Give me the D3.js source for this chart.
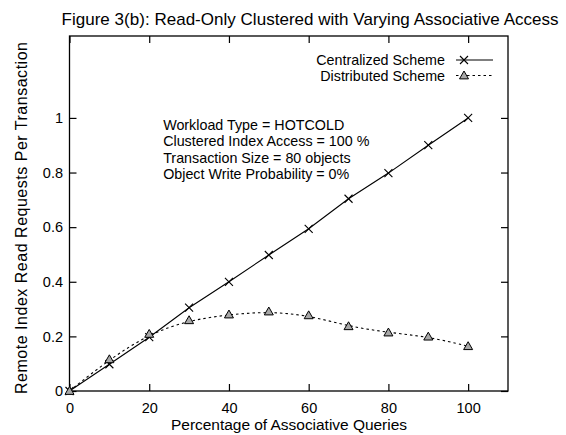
<!DOCTYPE html>
<meta charset="utf-8">
<html>
<head>
<script src="https://d3js.org/d3.v7.min.js"></script>
<style>
  body { margin: 0; background: #fff; }
  text { font-family: "Liberation Sans", Arial, Helvetica, sans-serif; fill: #000; }
</style>
</head>
<body>
<div id="chart"></div>
<script>
// data
var queryPct = [0, 10, 20, 30, 40, 50, 60, 70, 80, 90, 100];
var centralized = [0, 0.098, 0.197, 0.305, 0.400, 0.498, 0.594, 0.704, 0.798, 0.900, 1.0];
var distributed = [0, 0.116, 0.209, 0.259, 0.280, 0.291, 0.277, 0.237, 0.214, 0.199, 0.164];
var xTicks = [0, 20, 40, 60, 80, 100];
var yTicks = [0, 0.2, 0.4, 0.6, 0.8, 1];
var notes = ["Workload Type = HOTCOLD",
             "Clustered Index Access = 100 %",
             "Transaction Size = 80 objects",
             "Object Write Probability = 0%"];

var W = 566, H = 435;
var margin = {top: 36, right: 58, bottom: 44, left: 69.5};
var width = W - margin.left - margin.right,
    height = H - margin.top - margin.bottom;

var svg = d3.select("#chart").append("svg")
    .attr("width", W).attr("height", H);

var g = svg.append("g")
    .attr("transform", "translate(" + margin.left + "," + margin.top + ")");

var x = d3.scaleLinear().domain([0, 110]).range([0, width]);
var y = d3.scaleLinear().domain([0, 1.3]).range([height, 0]);

// title
svg.append("text")
    .attr("x", 310).attr("y", 25)
    .attr("text-anchor", "middle")
    .attr("textLength", 497).attr("lengthAdjust", "spacing")
    .style("font-size", "17px")
    .text("Figure 3(b): Read-Only Clustered with Varying Associative Access");

// axes (ticks inward, mirrored)
var tk = 7;
g.append("g").attr("transform", "translate(0," + height + ")")
    .call(d3.axisBottom(x).tickValues(xTicks).tickSizeInner(-tk).tickSizeOuter(0).tickPadding(12).tickFormat(d3.format("d")));
g.append("g").call(d3.axisTop(x).tickValues(xTicks).tickSizeInner(-tk).tickSizeOuter(0).tickFormat(""));
g.append("g")
    .call(d3.axisLeft(y).tickValues(yTicks).tickSizeInner(-tk).tickSizeOuter(0).tickPadding(6.5).tickFormat(d3.format("~g")));
g.append("g").attr("transform", "translate(" + width + ",0)")
    .call(d3.axisRight(y).tickValues(yTicks).tickSizeInner(-tk).tickSizeOuter(0).tickFormat(""));

g.selectAll(".domain").remove();
g.selectAll(".tick line").attr("stroke", "#000").attr("stroke-width", 1.2);
g.selectAll(".tick text").style("font-size", "14.5px").attr("fill", "#000");

g.append("rect")
    .attr("width", width).attr("height", height)
    .attr("fill", "none").attr("stroke", "#000").attr("stroke-width", 1.3);

// axis labels
svg.append("text")
    .attr("x", 289).attr("y", 430)
    .attr("text-anchor", "middle")
    .attr("textLength", 236).attr("lengthAdjust", "spacing")
    .style("font-size", "15.5px")
    .text("Percentage of Associative Queries");
svg.append("text")
    .attr("transform", "translate(26.5,218) rotate(-90)")
    .attr("text-anchor", "middle")
    .attr("textLength", 352).attr("lengthAdjust", "spacing")
    .style("font-size", "16px")
    .text("Remote Index Read Requests Per Transaction");

// notes
g.selectAll(".note").data(notes).enter().append("text")
    .attr("class", "note")
    .attr("x", x(23.5))
    .attr("y", function(d, i) { return y(1) + 12 + i * 16.5; })
    .style("font-size", "14.3px")
    .text(function(d) { return d; });

// series
var cData = queryPct.map(function(d, i) { return [d, centralized[i]]; });
var dData = queryPct.map(function(d, i) { return [d, distributed[i]]; });

var lineC = d3.line().x(function(d) { return x(d[0]); }).y(function(d) { return y(d[1]); });
var lineD = d3.line().curve(d3.curveBasis).x(function(d) { return x(d[0]); }).y(function(d) { return y(d[1]); });

g.append("path").datum(cData).attr("d", lineC)
    .attr("fill", "none").attr("stroke", "#000").attr("stroke-width", 1.1);
g.append("path").datum(dData).attr("d", lineD)
    .attr("fill", "none").attr("stroke", "#000").attr("stroke-width", 1.1)
    .attr("stroke-dasharray", "2.5,3");

function cross(sel, cx, cy) {
  var s = 4;
  sel.append("path")
    .attr("d", "M" + (cx - s) + "," + (cy - s) + "L" + (cx + s) + "," + (cy + s) +
               "M" + (cx - s) + "," + (cy + s) + "L" + (cx + s) + "," + (cy - s))
    .attr("stroke", "#000").attr("stroke-width", 1.1);
}
function tri(sel, cx, cy) {
  var s = 4.5;
  sel.append("path")
    .attr("d", "M" + cx + "," + (cy - s) + "L" + (cx + s) + "," + (cy + s * 0.75) +
               "L" + (cx - s) + "," + (cy + s * 0.75) + "Z")
    .attr("fill", "#a8a8a8").attr("stroke", "#000").attr("stroke-width", 1);
}

cData.forEach(function(d) { cross(g, x(d[0]), y(d[1])); });
dData.forEach(function(d) { tri(g, x(d[0]), y(d[1])); });

// legend
var legend = [{name: "Centralized Scheme", dash: null, mark: cross},
              {name: "Distributed Scheme", dash: "2.5,3", mark: tri}];
legend.forEach(function(l, i) {
  var ly = 60 + i * 15.5;
  svg.append("text")
    .attr("x", 445).attr("y", ly + 5)
    .attr("text-anchor", "end")
    .style("font-size", "14.3px")
    .text(l.name);
  svg.append("line")
    .attr("x1", 456).attr("x2", 493).attr("y1", ly).attr("y2", ly)
    .attr("stroke", "#000").attr("stroke-width", 1.1)
    .attr("stroke-dasharray", l.dash);
  l.mark(svg, 464, ly);
});
</script>
</body>
</html>
